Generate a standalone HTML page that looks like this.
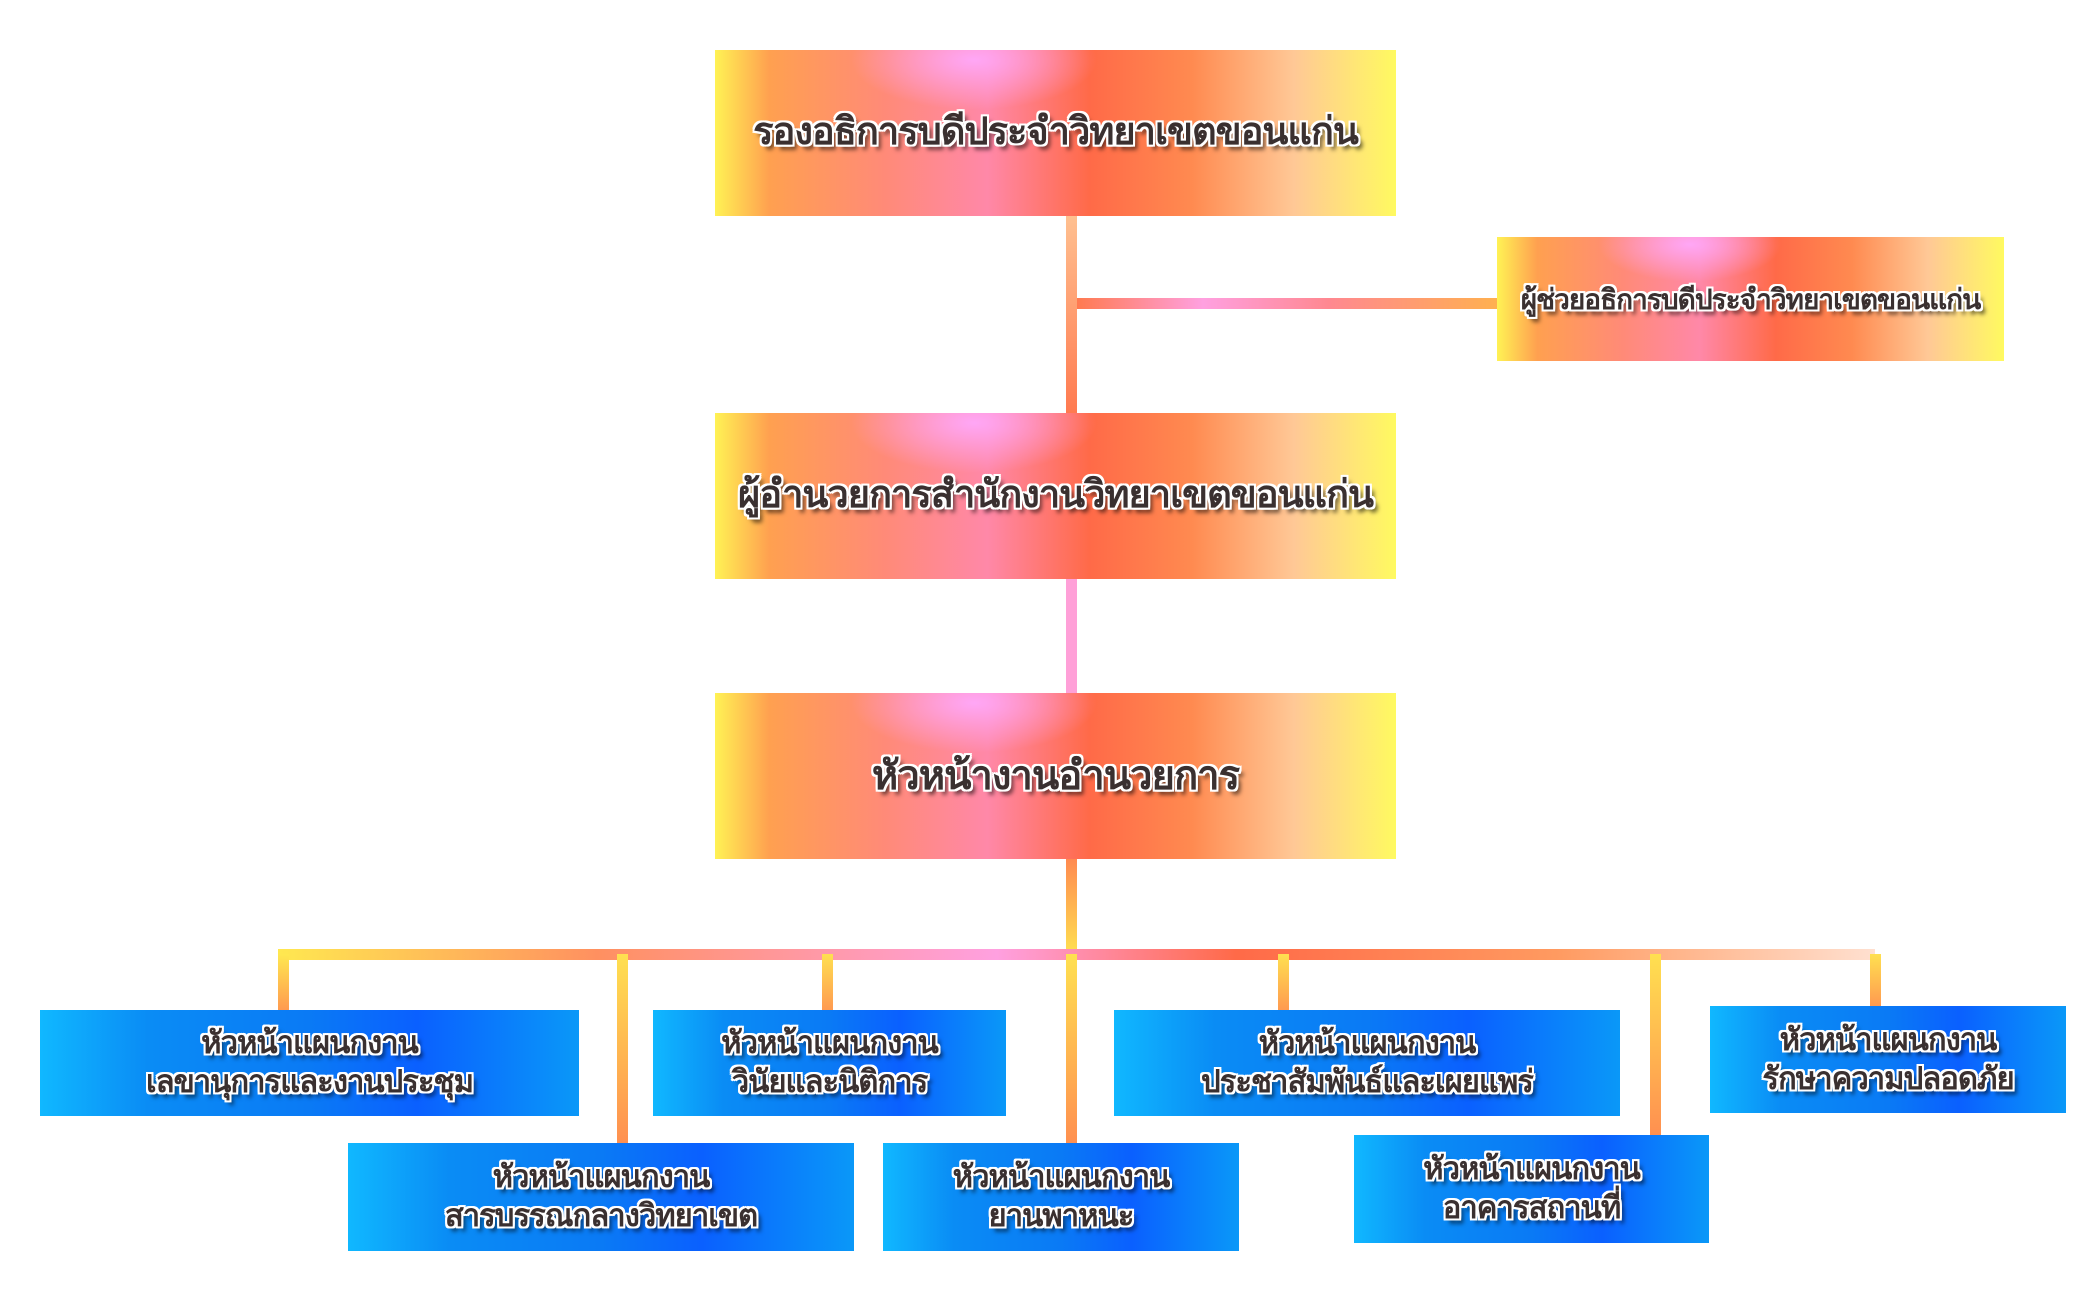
<!DOCTYPE html>
<html><head><meta charset="utf-8"><style>
html,body{margin:0;padding:0;background:#fff;}
body{width:2100px;height:1296px;position:relative;overflow:hidden;font-family:"Liberation Sans","DejaVu Sans",sans-serif;}
.b{position:absolute;display:flex;align-items:center;justify-content:center;text-align:center;color:#3a3030;font-weight:bold;white-space:nowrap;letter-spacing:-1px;
text-shadow:-2px -2px 0 #fff,2px -2px 0 #fff,-2px 2px 0 #fff,2px 2px 0 #fff,0 2px 0 #fff,0 -2px 0 #fff,2px 0 0 #fff,-2px 0 0 #fff,4px 5px 4px rgba(0,0,0,.6);line-height:1.25;}
.o{background:
radial-gradient(ellipse 18% 30% at 38% 6%,rgba(255,170,255,.9),rgba(255,170,255,0)),
linear-gradient(90deg,#fff254 0%,#ffa050 8%,#ff8a78 25%,#ff88a8 40%,#ff6a48 55%,#ff8a50 70%,#ffc896 85%,#fffa60 100%);}
.u{background:linear-gradient(90deg,#10b8ff 0%,#0a8cf5 20%,#0a7af5 50%,#0a60ff 70%,#0a98f8 100%);}
.l{position:absolute;}
</style></head><body>
<div class="l" style="left:1066px;top:216px;width:11px;height:197px;background:linear-gradient(#ffc090,#ff7a50);"></div>
<div class="l" style="left:1077px;top:298px;width:420px;height:11px;background:linear-gradient(90deg,#ff7a50,#ffa0e0 30%,#ff8890 60%,#ffb050);"></div>
<div class="l" style="left:1066px;top:579px;width:11px;height:114px;background:#ffa0d8;"></div>
<div class="l" style="left:1066px;top:859px;width:11px;height:95px;background:linear-gradient(#ff8a50,#ffe050);"></div>
<div class="l" style="left:278px;top:949px;width:1597px;height:11px;background:linear-gradient(90deg,#ffe850,#ff9060 20%,#ffa0e0 45%,#ff6a48 60%,#ff9a60 80%,#ffe0d0);"></div>
<div class="l" style="left:278px;top:954px;width:11px;height:56px;background:linear-gradient(#ffe850,#ff9a50);"></div>
<div class="l" style="left:617px;top:954px;width:11px;height:189px;background:linear-gradient(#ffe050,#ff9050);"></div>
<div class="l" style="left:822px;top:954px;width:11px;height:56px;background:linear-gradient(#ffe050,#ff9a50);"></div>
<div class="l" style="left:1066px;top:954px;width:11px;height:189px;background:linear-gradient(#ffe050,#ff9050);"></div>
<div class="l" style="left:1278px;top:954px;width:11px;height:56px;background:linear-gradient(#ffe050,#ff9a50);"></div>
<div class="l" style="left:1650px;top:954px;width:11px;height:181px;background:linear-gradient(#ffe050,#ff9050);"></div>
<div class="l" style="left:1870px;top:954px;width:11px;height:52px;background:linear-gradient(#ffe050,#ff9a50);"></div>
<div class="b o" style="left:715px;top:50px;width:681px;height:166px;font-size:38px;">รองอธิการบดีประจำวิทยาเขตขอนแก่น</div>
<div class="b o" style="left:1497px;top:237px;width:507px;height:124px;font-size:28px;">ผู้ช่วยอธิการบดีประจำวิทยาเขตขอนแก่น</div>
<div class="b o" style="left:715px;top:413px;width:681px;height:166px;font-size:38px;">ผู้อำนวยการสำนักงานวิทยาเขตขอนแก่น</div>
<div class="b o" style="left:715px;top:693px;width:681px;height:166px;font-size:40px;">หัวหน้างานอำนวยการ</div>
<div class="b u" style="left:40px;top:1010px;width:539px;height:106px;font-size:31px;">หัวหน้าแผนกงาน<br>เลขานุการและงานประชุม</div>
<div class="b u" style="left:653px;top:1010px;width:353px;height:106px;font-size:31px;">หัวหน้าแผนกงาน<br>วินัยและนิติการ</div>
<div class="b u" style="left:1114px;top:1010px;width:506px;height:106px;font-size:31px;">หัวหน้าแผนกงาน<br>ประชาสัมพันธ์และเผยแพร่</div>
<div class="b u" style="left:1710px;top:1006px;width:356px;height:107px;font-size:31px;">หัวหน้าแผนกงาน<br>รักษาความปลอดภัย</div>
<div class="b u" style="left:348px;top:1143px;width:506px;height:108px;font-size:31px;">หัวหน้าแผนกงาน<br>สารบรรณกลางวิทยาเขต</div>
<div class="b u" style="left:883px;top:1143px;width:356px;height:108px;font-size:31px;">หัวหน้าแผนกงาน<br>ยานพาหนะ</div>
<div class="b u" style="left:1354px;top:1135px;width:355px;height:108px;font-size:31px;">หัวหน้าแผนกงาน<br>อาคารสถานที่</div>
</body></html>
